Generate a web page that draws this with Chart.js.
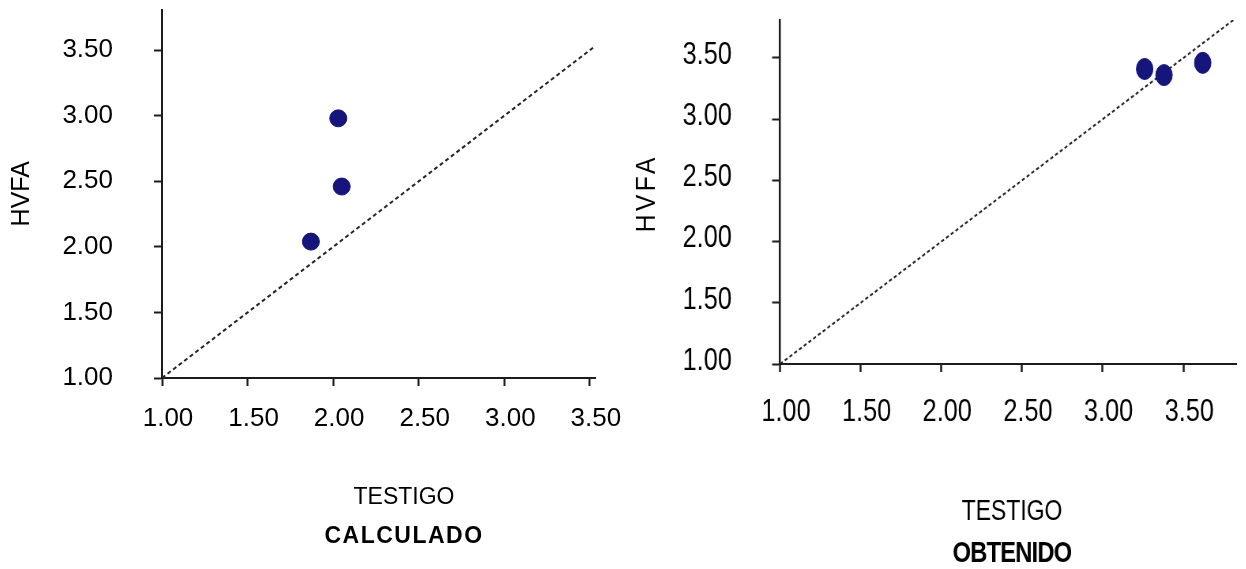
<!DOCTYPE html>
<html>
<head>
<meta charset="utf-8">
<title>HVFA vs TESTIGO</title>
<script src="https://cdn.jsdelivr.net/npm/chart.js@4.4.1/dist/chart.umd.min.js"></script>
<style>
  html, body { margin: 0; padding: 0; background: #fff; overflow: hidden; }
  #wrap { position: relative; width: 1246px; height: 569px; overflow: hidden; }
  canvas { position: absolute; top: 0; }
  #calc { left: 0; }
  #obt { left: 620px; transform-origin: 0 0; }
</style>
</head>
<body>
<div id="wrap">
  <canvas id="calc" width="630" height="569"></canvas>
  <canvas id="obt" width="626" height="569"></canvas>
</div>
<script>
// Shared axis ticks
const tickValues = [1, 1.5, 2, 2.5, 3, 3.5];
const tickLabels = ['1.00', '1.50', '2.00', '2.50', '3.00', '3.50'];

// Calculated values: TESTIGO (x) vs HVFA (y)
const calcTestigo = [2.03, 2.05, 1.87];
const calcHvfa = [2.98, 2.46, 2.04];
const calcIdentity = [1, 3.53];

// Obtained values: TESTIGO (x) vs HVFA (y)
const obtTestigo = [3.26, 3.38, 3.62];
const obtHvfa = [3.41, 3.36, 3.46];
const obtIdentity = [1, 3.81];

const MARKER = '#16157c';
const INK = '#1c1c1c';
const SANS = "'Liberation Sans', Arial, sans-serif";

// The "obtenido" panel is drawn wide and squeezed horizontally (condensed look)
const SQUEEZE = 0.79;
const obtCanvas = document.getElementById('obt');
obtCanvas.width = Math.round(626 / SQUEEZE);
obtCanvas.style.transform = 'scaleX(' + SQUEEZE + ')';

function pairs(xs, ys) {
  return xs.map((x, i) => ({ x: x, y: ys[i] }));
}

// Caption lines under the x axis, plus an optional hand-set vertical axis title
const captionPlugin = {
  id: 'caption',
  afterDraw(chart, args, opts) {
    const ctx = chart.ctx;
    const hasSpacing = 'letterSpacing' in ctx;
    ctx.save();
    ctx.textAlign = 'center';
    ctx.textBaseline = 'middle';
    ctx.fillStyle = '#000';
    for (const line of (opts.lines || [])) {
      ctx.font = line.font;
      if (hasSpacing) ctx.letterSpacing = (line.spacing || 0) + 'px';
      ctx.fillText(line.text, opts.x, line.y);
    }
    const side = opts.sideTitle;
    if (side) {
      ctx.translate(side.x, side.y);
      ctx.rotate(-Math.PI / 2);
      ctx.scale(side.alongScale, 1);
      ctx.font = side.font;
      if (hasSpacing) ctx.letterSpacing = side.spacing + 'px';
      ctx.fillText(side.text, side.spacing / 2, 0);
    }
    ctx.restore();
  }
};

function makeChart(canvas, cfg) {
  const fixedTicks = scale => { scale.ticks = tickValues.map(v => ({ value: v })); };
  const tickText = (v, i) => tickLabels[i];
  const noOverhang = s => { s.paddingTop = 0; s.paddingBottom = 0; s.paddingLeft = 0; s.paddingRight = 0; };
  return new Chart(canvas, {
    type: 'scatter',
    data: {
      datasets: [
        {
          label: 'HVFA',
          data: pairs(cfg.xs, cfg.ys),
          backgroundColor: MARKER,
          borderColor: MARKER,
          borderWidth: 1,
          pointRadius: cfg.r,
          pointHoverRadius: cfg.r,
          order: 1
        },
        {
          type: 'line',
          label: '1:1',
          data: pairs(cfg.identity, cfg.identity),
          borderColor: '#262626',
          borderWidth: 2,
          borderDash: [4, 3],
          pointRadius: 0,
          fill: false,
          order: 2
        }
      ]
    },
    options: {
      responsive: false,
      animation: false,
      events: [],
      layout: { padding: cfg.padding },
      plugins: {
        legend: { display: false },
        tooltip: { enabled: false },
        caption: cfg.caption
      },
      scales: {
        x: {
          type: 'linear',
          min: 1,
          max: cfg.xMax,
          afterBuildTicks: fixedTicks,
          afterFit: s => { s.height = cfg.xAxisH; noOverhang(s); },
          grid: { drawOnChartArea: false, tickLength: 8, tickColor: INK, tickWidth: cfg.vLine },
          border: { color: INK, width: 2 },
          ticks: {
            callback: tickText,
            font: cfg.tickFont,
            color: '#000',
            padding: cfg.xPad,
            labelOffset: cfg.xLabelOffset,
            maxRotation: 0,
            autoSkip: false
          }
        },
        y: {
          type: 'linear',
          min: 1,
          max: cfg.yMax,
          afterBuildTicks: fixedTicks,
          afterFit: s => { s.width = cfg.yAxisW; noOverhang(s); },
          grid: { drawOnChartArea: false, tickLength: cfg.yTick, tickColor: INK, tickWidth: 2 },
          border: { color: INK, width: cfg.vLine },
          ticks: {
            callback: tickText,
            font: cfg.tickFont,
            color: '#000',
            padding: cfg.yPad,
            labelOffset: cfg.yLabelOffset,
            autoSkip: false
          },
          title: {
            display: !!cfg.yTitle,
            text: cfg.yTitle || '',
            font: cfg.yTitleFont,
            color: '#000',
            padding: { top: cfg.yTitlePad || 0, bottom: 0 }
          }
        }
      }
    },
    plugins: [captionPlugin]
  });
}

makeChart(document.getElementById('calc'), {
  xs: calcTestigo, ys: calcHvfa, identity: calcIdentity,
  xMax: 3.53, yMax: 3.81, r: 8.5, vLine: 2,
  padding: { left: 0, top: 8, right: 35, bottom: 121 },
  xAxisH: 70, yAxisW: 162, xPad: 17, yPad: 41, yTick: 8,
  xLabelOffset: 6, yLabelOffset: 0,
  tickFont: { family: SANS, size: 26 },
  yTitle: 'HVFA', yTitleFont: { family: SANS, size: 25 }, yTitlePad: 7,
  caption: {
    x: 404,
    lines: [
      { text: 'TESTIGO', font: '23px ' + SANS, y: 498 },
      { text: 'CALCULADO', font: 'bold 23px ' + SANS, y: 537, spacing: 1.5 }
    ]
  }
});

makeChart(obtCanvas, {
  xs: obtTestigo, ys: obtHvfa, identity: obtIdentity,
  xMax: 3.83, yMax: 3.81, r: 10.5, vLine: 2.5,
  padding: { left: 0, top: 20, right: 0, bottom: 135 },
  xAxisH: 70, yAxisW: 160 / SQUEEZE, xPad: 21, yPad: 51, yTick: 10,
  xLabelOffset: 7.5, yLabelOffset: -3,
  tickFont: { family: SANS, size: 32 },
  yTitle: null,
  caption: {
    x: 392 / SQUEEZE,
    lines: [
      { text: 'TESTIGO', font: '29px ' + SANS, y: 512 },
      { text: 'OBTENIDO', font: 'bold 30px ' + SANS, y: 554, spacing: -1 }
    ],
    sideTitle: { text: 'HVFA', font: '35px ' + SANS, x: 27 / SQUEEZE, y: 195, alongScale: 0.7, spacing: 5 }
  }
});
</script>
</body>
</html>
